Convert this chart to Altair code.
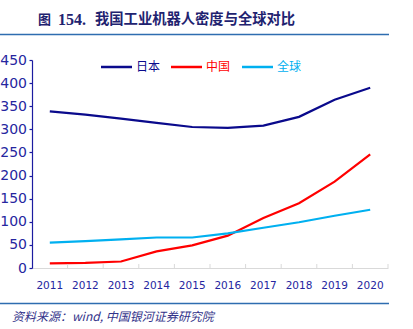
import altair as alt
import pandas as pd

years = ["2011", "2012", "2013", "2014", "2015", "2016", "2017", "2018", "2019", "2020"]
japan = [339, 332, 323, 314, 305, 303, 308, 327, 364, 390]
china = [10, 11, 14, 36, 49, 70, 108, 140, 187, 246]
world = [55, 58, 62, 66, 66, 75, 87, 99, 113, 126]
series_names = ["日本", "中国", "全球"]
series_colors = ["#0a0a8c", "#ff0000", "#00b0f0"]
y_ticks = [0, 50, 100, 150, 200, 250, 300, 350, 400, 450]

rows = []
for name, vals in zip(series_names, [japan, china, world]):
    for yr, v in zip(years, vals):
        rows.append({"year": yr, "series": name, "value": v})
df = pd.DataFrame(rows)
years_df = pd.DataFrame({"year": years})

W, H = 356, 208
FONT = "DejaVu Sans"
CJK = "Noto Sans CJK SC"
AXIS_BLUE = "#1c1ca0"
LABEL_BLUE = "#2626a0"

xscale = alt.Scale(type="band", domain=years, paddingInner=0, paddingOuter=0)
yscale = alt.Scale(domain=[0, 450], nice=False)
x_axis = alt.Axis(title=None, labelAngle=0, ticks=False, domainColor="#d9d9d9",
                  domainWidth=1, labelColor=LABEL_BLUE, labelFont=FONT,
                  labelFontSize=10.5, labelPadding=12.5, grid=False,
                  bandPosition=0.5, labelAlign="center")

lines = alt.Chart(df).mark_line(strokeWidth=2.2).encode(
    x=alt.X("year:O", scale=xscale, bandPosition=0.5, axis=x_axis),
    y=alt.Y("value:Q", scale=yscale,
            axis=alt.Axis(title=None, values=y_ticks, grid=False, domainColor=AXIS_BLUE,
                          domainWidth=1.2, tickColor=AXIS_BLUE, tickSize=3, tickWidth=1.2,
                          labelColor=LABEL_BLUE, labelFont=FONT, labelFontSize=14,
                          labelPadding=2.5)),
    color=alt.Color("series:N", scale=alt.Scale(domain=series_names, range=series_colors),
                    legend=None),
)

xticks = alt.Chart(years_df).mark_rule(color="#d9d9d9", strokeWidth=1).encode(
    x=alt.X("year:O", scale=xscale, bandPosition=1, axis=x_axis),
    y=alt.value(H - 4),
    y2=alt.value(H),
)

layers = [lines, xticks]

# legend
leg_x = [69, 139, 210]
for name, col, lx in zip(series_names, series_colors, leg_x):
    one = pd.DataFrame({"series": [name]})
    layers.append(alt.Chart(one).mark_rule(color=col, strokeWidth=2.5).encode(
        x=alt.value(lx), x2=alt.value(lx + 31), y=alt.value(7)))
    layers.append(alt.Chart(one).mark_text(color=col, font=CJK, fontSize=12,
                                           align="left", baseline="middle").encode(
        x=alt.value(lx + 35), y=alt.value(7), text="series:N"))

# title and source
deco = pd.DataFrame({"t": ["图", "154.", "我国工业机器人密度与全球对比",
                           "资料来源：wind, 中国银河证券研究院"]})
TITLE_C = "#1f2370"
layers.append(alt.Chart(deco).transform_filter("datum.t == '图'").mark_text(
    color=TITLE_C, font=CJK, fontSize=13, fontWeight="bold", align="left",
    baseline="middle").encode(x=alt.value(6), y=alt.value(-40), text="t:N"))
layers.append(alt.Chart(deco).transform_filter("datum.t == '154.'").mark_text(
    color=TITLE_C, font="Liberation Serif", fontSize=16, fontWeight="bold", align="left",
    baseline="middle").encode(x=alt.value(26), y=alt.value(-40), text="t:N"))
layers.append(alt.Chart(deco).transform_filter("datum.t == '我国工业机器人密度与全球对比'").mark_text(
    color=TITLE_C, font=CJK, fontSize=14.3, fontWeight="bold", align="left",
    baseline="middle").encode(x=alt.value(63), y=alt.value(-40), text="t:N"))
layers.append(alt.Chart(deco).transform_filter("datum.t == '资料来源：wind, 中国银河证券研究院'").mark_text(
    color="#33338a", font=CJK, fontSize=12, fontStyle="italic", align="left",
    baseline="middle").encode(x=alt.value(-20), y=alt.value(257), text="t:N"))

# header/footer separator lines
sep = pd.DataFrame({"k": ["a"]})
layers.append(alt.Chart(sep).mark_rule(color="#2e6db0", strokeWidth=1.5).encode(
    x=alt.value(-32), x2=alt.value(357), y=alt.value(-25.5)))
layers.append(alt.Chart(sep).mark_rule(color="#2e6db0", strokeWidth=1.5).encode(
    x=alt.value(-32), x2=alt.value(357), y=alt.value(243.5)))

chart = alt.layer(*layers).properties(
    width=W, height=H,
    autosize=alt.AutoSizeParams(type="none"),
    padding={"left": 32, "top": 60, "right": 25, "bottom": 61},
    background="white",
).configure_view(stroke=None)

chart.save("out.html", embed_options={"renderer": "svg", "actions": False})
